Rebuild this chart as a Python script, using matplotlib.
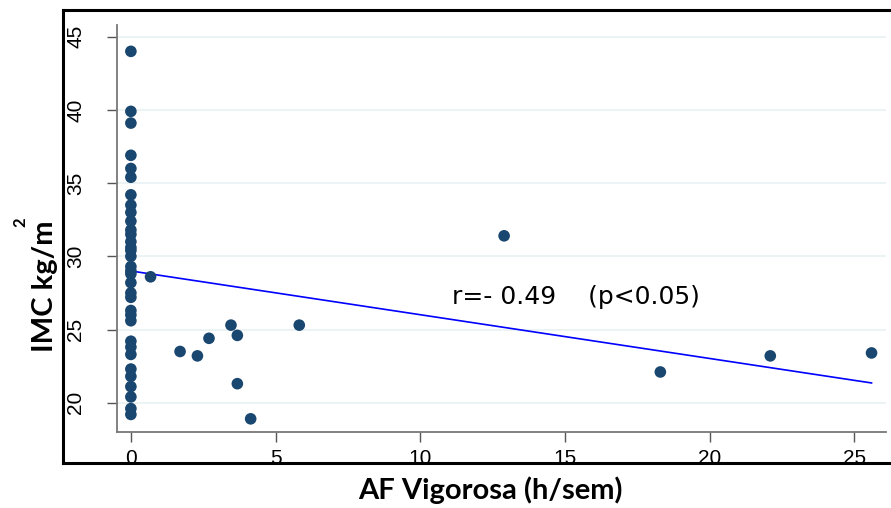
import numpy as np
import matplotlib.pyplot as plt
from matplotlib.lines import Line2D

# Horas semanales de actividad fisica vigorosa vs IMC
af_cero = [44.0, 39.9, 39.1, 36.9, 36.0, 35.4, 34.2, 33.5, 33.0, 32.4,
           31.8, 31.5, 31.0, 30.6, 30.4, 30.0, 29.3, 29.0, 28.8, 28.2,
           27.5, 27.2, 26.3, 26.0, 25.6, 24.2, 23.8, 23.3, 22.3, 21.8,
           21.1, 20.4, 19.6, 19.2]
af_vig = [0.68, 1.7, 2.3, 2.7, 3.46, 3.68, 3.68, 4.14, 5.82, 12.9, 18.3, 22.1, 25.6]
imc_vig = [28.6, 23.5, 23.2, 24.4, 25.3, 24.6, 21.3, 18.9, 25.3, 31.4, 22.1, 23.2, 23.4]

x = np.array([0.0] * len(af_cero) + af_vig)
y = np.array(af_cero + imc_vig)

# recta de ajuste (extremos)
fit_x = [0.0, 25.6]
fit_y = [29.0, 21.35]

xticks = [0, 5, 10, 15, 20, 25]
yticks = [20, 25, 30, 35, 40, 45]

fig = plt.figure(figsize=(8.91, 5.08), dpi=100)
ax = fig.add_axes([0.1313, 0.1496, 0.8631, 0.8012])

ax.scatter(x, y, s=70, color='#1a476f', edgecolors='none', zorder=3)
ax.plot(fit_x, fit_y, color='#0000ff', lw=1.2, zorder=2)

ax.set_xlim(-0.48, 26.1)
ax.set_ylim(18.0, 45.8)
ax.set_xticks(xticks)
ax.set_yticks(yticks)
ax.set_xticklabels([str(t) for t in xticks], family='Liberation Sans', fontsize=15)
ax.set_yticklabels([str(t) for t in yticks], family='Liberation Sans', fontsize=15,
                   rotation=90, va='center')
ax.tick_params(axis='both', direction='out', length=7, width=1, color='#555555')
ax.tick_params(axis='x', pad=5)
ax.tick_params(axis='y', pad=16)

for t in yticks:
    ax.axhline(t, color='#eaf2f3', lw=1.3, zorder=1)

ax.spines['top'].set_visible(False)
ax.spines['right'].set_visible(False)
for s in ['left', 'bottom']:
    ax.spines[s].set_color('#777777')
    ax.spines[s].set_linewidth(1.3)

ax.text(11.1, 27.2, 'r=- 0.49    (p<0.05)', family='DejaVu Sans', fontsize=18,
        va='center', ha='left')

# etiquetas de ejes
fig.text(0.550, 0.035, 'AF Vigorosa (h/sem)', family='Lato', fontweight='bold',
         fontsize=21, ha='center', va='center')
fig.text(0.050, 0.437, 'IMC kg/m', family='Lato', fontweight='bold',
         fontsize=21, rotation=90, ha='center', va='center')
fig.text(0.023, 0.563, '2', family='Lato', fontweight='bold',
         fontsize=12, rotation=90, ha='center', va='center')

# marco exterior
frame_kw = dict(color='black', lw=2.2, transform=fig.transFigure)
fig.add_artist(Line2D([0.0707, 1.0], [0.980, 0.980], **frame_kw))
fig.add_artist(Line2D([0.0707, 0.0707], [0.980, 0.088], **frame_kw))
fig.add_artist(Line2D([0.0707, 1.0], [0.088, 0.088], **frame_kw))

fig.savefig('out.png', dpi=100)
